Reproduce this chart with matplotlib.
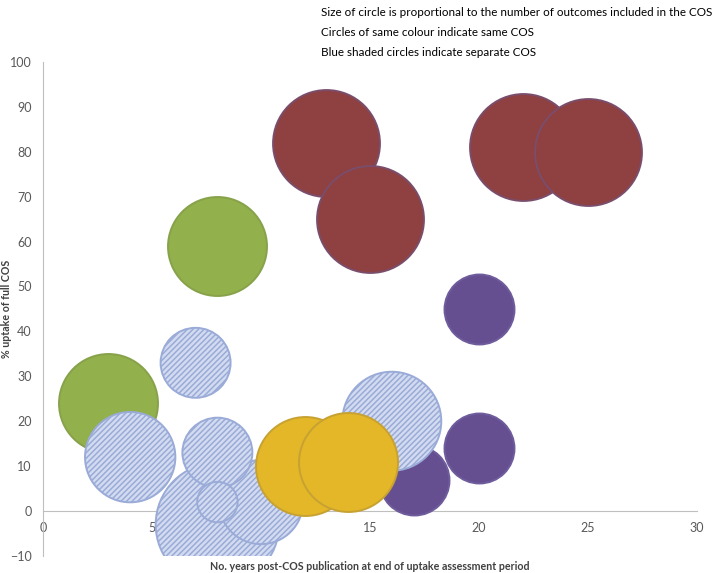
import matplotlib
matplotlib.use("Agg")
import matplotlib.pyplot as plt
import numpy as np

plt.rcParams['font.family'] = ['Lato', 'DejaVu Sans']
plt.rcParams['hatch.color'] = '#4a62ad'
plt.rcParams['hatch.linewidth'] = 1.1

# Data (drawn in this order)
groups = ['green', 'blue', 'blue', 'blue', 'blue', 'blue', 'blue', 'green',
          'red', 'red', 'red', 'red', 'purple', 'purple', 'purple', 'blue',
          'yellow', 'yellow']
years = [3, 4, 7, 8, 10, 8, 8, 8, 13, 15, 22, 25, 20, 20, 17, 16, 12, 14]
uptake = [24, 12, 33, -3, 2, 13, 2, 59, 82, 65, 81, 80, 45, 14, 7, 20, 10, 11]
outcomes = [18, 15, 9, 28, 13, 9, 3, 18, 21, 21, 21, 21, 9, 9, 9, 18, 18, 18]

styles = {
    'red':    dict(fc='#8f4040', ec='#7a4d6b', hatch=None),
    'green':  dict(fc='#92b04b', ec='#87a24a', hatch=None),
    'purple': dict(fc='#654f91', ec='#6e5c9c', hatch=None),
    'yellow': dict(fc='#e3b727', ec='#c7a233', hatch=None),
    'blue':   dict(fc='#d3dbf0', ec='#9aabd8', hatch='//////'),
}

fig = plt.figure(figsize=(7.14, 5.73), dpi=100)
ax = fig.add_axes([0.0602, 0.0297, 0.9160, 0.8624])

scale = 282
for i, g in enumerate(groups):
    st = styles[g]
    ax.scatter([years[i]], [uptake[i]], s=outcomes[i] * scale,
               facecolor=st['fc'], edgecolor=st['ec'], linewidth=1.4,
               hatch=st['hatch'], zorder=3 + i)

ax.set_xlim(0, 30)
ax.set_ylim(-10, 100)
ax.set_xticks(np.arange(0, 31, 5))
ax.set_yticks(np.arange(-10, 101, 10))
ax.tick_params(length=0, labelsize=9, colors='#595959', pad=8)
for s in ['top', 'right']:
    ax.spines[s].set_visible(False)
ax.spines['bottom'].set_position(('data', 0))
ax.spines['bottom'].set_color('#bfbfbf')
ax.spines['left'].set_color('#bfbfbf')
ax.spines['bottom'].set_zorder(2)
ax.spines['left'].set_zorder(2)

fig.text(0.518, 0.0105, 'No. years post-COS publication at end of uptake assessment period',
         ha='center', va='center', fontsize=7.7, fontweight='bold', color='#404040')
fig.text(0.0098, 0.461, '% uptake of full COS', rotation=90, ha='center', va='center',
         fontsize=7.7, fontweight='bold', color='#404040')

notes = ['Size of circle is proportional to the number of outcomes included in the COS',
         'Circles of same colour indicate same COS',
         'Blue shaded circles indicate separate COS']
for k, t in enumerate(notes):
    fig.text(0.449, 1 - (13 + 20 * k) / 573, t, ha='left', va='center',
             fontsize=8.4, color='#000000')

fig.savefig('out.png', dpi=100)
